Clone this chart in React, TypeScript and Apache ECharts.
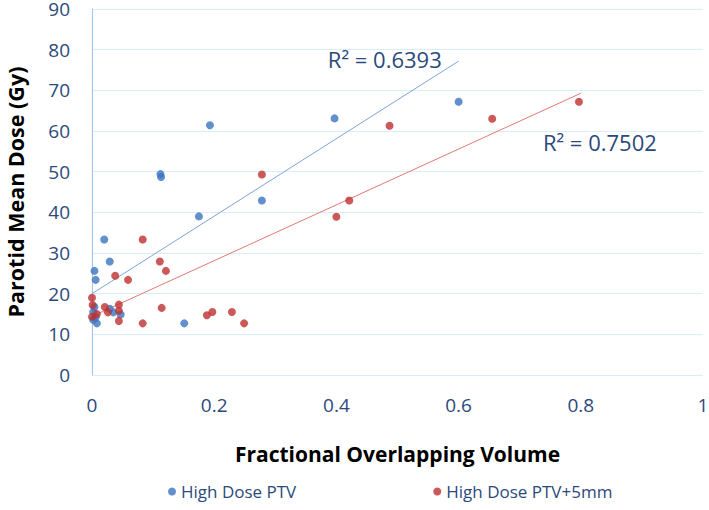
import React, { useEffect, useRef } from "react";
import * as echarts from "echarts";

// Data
const ptvX = [0.004, 0.006, 0.020, 0.029, 0.112, 0.113, 0.193, 0.397, 0.600, 0.278, 0.175, 0.151, 0.008, 0.002, 0.002, 0.004, 0.029, 0.035, 0.047, 0.006];
const ptvY = [25.6, 23.4, 33.3, 27.9, 49.4, 48.7, 61.4, 63.1, 67.2, 42.9, 39.0, 12.7, 12.7, 13.6, 15.5, 16.7, 16.3, 15.4, 14.9, 14.2];

const ptv5X = [0.000, 0.001, 0.000, 0.008, 0.021, 0.026, 0.038, 0.059, 0.044, 0.044, 0.044, 0.083, 0.083, 0.111, 0.121, 0.114, 0.188, 0.197, 0.229, 0.249, 0.278, 0.400, 0.421, 0.487, 0.655, 0.797];
const ptv5Y = [19.0, 17.2, 14.3, 15.0, 16.7, 15.4, 24.4, 23.4, 17.3, 15.8, 13.3, 33.3, 12.7, 27.9, 25.6, 16.5, 14.7, 15.5, 15.5, 12.7, 49.3, 38.9, 42.9, 61.3, 63.0, 67.2];

// Trend lines (intercept, slope, x range) and R² labels
const ptvTrend = { a: 20.0, b: 95.3, x0: 0, x1: 0.6, r2: "R² = 0.6393", labelAt: [0.386, 77.6] };
const ptv5Trend = { a: 14.4, b: 68.6, x0: 0, x1: 0.8, r2: "R² = 0.7502", labelAt: [0.738, 57.3] };

const xTicks = [0, 0.2, 0.4, 0.6, 0.8, 1];
const seriesNames = ["High Dose PTV", "High Dose PTV+5mm"];

const BLUE = "#3a74c0";
const RED = "#be3030";
const TEXT = "#2b4a7c";
const FONT = "'Open Sans', sans-serif";

function pairs(xs: number[], ys: number[]) {
  return xs.map((x, i) => [x, ys[i]]);
}
function trendData(t: { a: number; b: number; x0: number; x1: number }) {
  return [
    [t.x0, t.a + t.b * t.x0],
    [t.x1, t.a + t.b * t.x1],
  ];
}

export default function App() {
  const ref = useRef<HTMLDivElement>(null);
  useEffect(() => {
    if (!ref.current) return;
    const chart = echarts.init(ref.current, undefined, { renderer: "svg" });
    chart.setOption({
      animation: false,
      backgroundColor: "#ffffff",
      textStyle: { fontFamily: FONT },
      grid: { left: 92, right: 6, top: 9, bottom: 135, containLabel: false, outerBoundsMode: "none" },
      legend: {
        bottom: 5,
        left: 163,
        itemGap: 137,
        itemWidth: 8,
        itemHeight: 8,
        icon: "circle",
        data: seriesNames,
        textStyle: { color: TEXT, fontSize: 17, fontFamily: FONT },
      },
      xAxis: {
        type: "value",
        min: 0,
        max: 1,
        interval: 0.2,
        name: "Fractional Overlapping Volume",
        nameLocation: "middle",
        nameGap: 68,
        nameTextStyle: { color: "#000", fontSize: 21, fontWeight: "bold", fontFamily: FONT },
        axisLine: { show: false },
        axisTick: { show: false },
        splitLine: { show: false },
        axisLabel: {
          color: TEXT,
          fontSize: 19,
          margin: 20,
          formatter: (v: number) => (xTicks.indexOf(+v.toFixed(1)) >= 0 ? String(+v.toFixed(1)) : ""),
        },
      },
      yAxis: {
        type: "value",
        min: 0,
        max: 90,
        interval: 10,
        name: "Parotid Mean Dose (Gy)",
        nameLocation: "middle",
        nameGap: 66,
        nameTextStyle: { color: "#000", fontSize: 21.5, fontWeight: "bold", fontFamily: FONT },
        axisLine: { show: true, lineStyle: { color: "#9fc3e8", width: 1 } },
        axisTick: { show: false },
        splitLine: { show: true, lineStyle: { color: "#d8eef8", width: 1 } },
        axisLabel: { color: TEXT, fontSize: 19, lineHeight: 18, margin: 22 },
      },
      series: [
        {
          name: seriesNames[0],
          type: "scatter",
          data: pairs(ptvX, ptvY),
          symbolSize: 8,
          itemStyle: { color: BLUE },
          z: 3,
        },
        {
          name: seriesNames[1],
          type: "scatter",
          data: pairs(ptv5X, ptv5Y),
          symbolSize: 8,
          itemStyle: { color: RED },
          z: 3,
        },
        {
          name: "trend1",
          type: "line",
          data: trendData(ptvTrend),
          showSymbol: false,
          symbol: "none",
          lineStyle: { color: "#7ea3d8", width: 1 },
          z: 2,
          silent: true,
          markPoint: {
            symbol: "circle",
            symbolSize: 0,
            data: [{ coord: ptvTrend.labelAt }],
            label: {
              show: true,
              position: "right",
              distance: 0,
              formatter: ptvTrend.r2,
              color: TEXT,
              fontSize: 22,
              fontFamily: FONT,
            },
          },
        },
        {
          name: "trend2",
          type: "line",
          data: trendData(ptv5Trend),
          showSymbol: false,
          symbol: "none",
          lineStyle: { color: "#e07a74", width: 1 },
          z: 2,
          silent: true,
          markPoint: {
            symbol: "circle",
            symbolSize: 0,
            data: [{ coord: ptv5Trend.labelAt }],
            label: {
              show: true,
              position: "right",
              distance: 0,
              formatter: ptv5Trend.r2,
              color: TEXT,
              fontSize: 22,
              fontFamily: FONT,
            },
          },
        },
      ],
    });
    return () => chart.dispose();
  }, []);
  return <div ref={ref} style={{ width: 709, height: 510, position: "absolute", left: 0, top: 0 }} />;
}
